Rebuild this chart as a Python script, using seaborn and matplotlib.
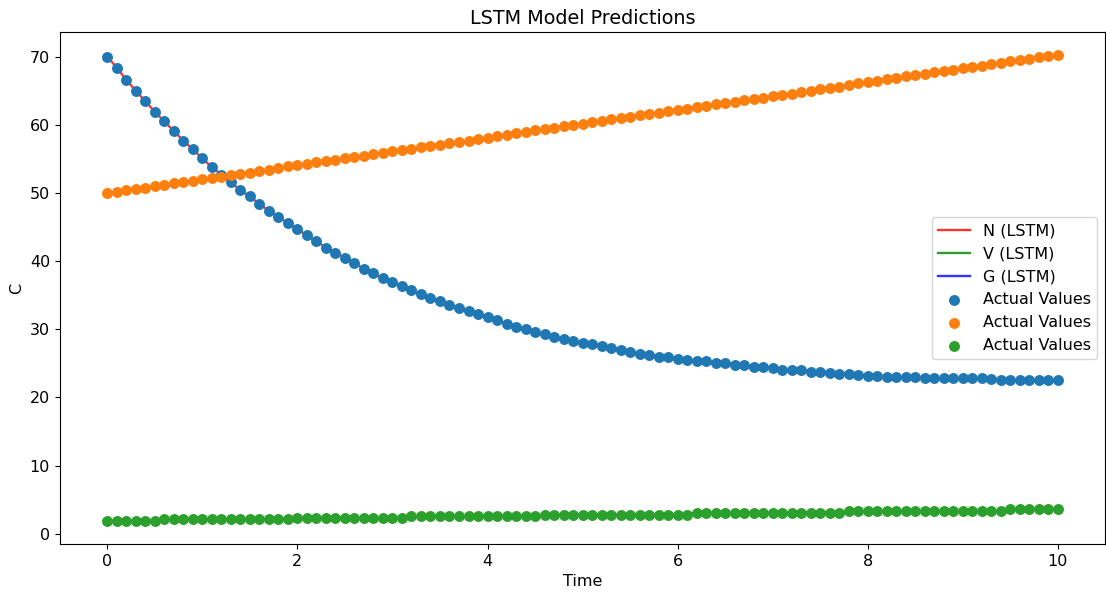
import numpy as np
import pandas as pd
import matplotlib
matplotlib.use('Agg')
import matplotlib.pyplot as plt
import seaborn as sns

# ============================
# 数据
# ============================
time = [round(0.1 * i, 1) for i in range(101)]

n_actual = [
    70.0, 68.4, 66.6, 65.0, 63.5, 61.9, 60.5, 59.1, 57.7, 56.4,
    55.1, 53.8, 52.7, 51.6, 50.4, 49.5, 48.4, 47.4, 46.5, 45.6,
    44.7, 43.8, 42.9, 42.0, 41.2, 40.5, 39.7, 38.9, 38.2, 37.5,
    37.0, 36.3, 35.7, 35.2, 34.6, 34.1, 33.6, 33.2, 32.7, 32.3,
    31.8, 31.3, 30.8, 30.4, 30.0, 29.6, 29.3, 28.9, 28.6, 28.3,
    28.0, 27.8, 27.5, 27.2, 26.9, 26.7, 26.4, 26.2, 26.0, 25.9,
    25.7, 25.5, 25.4, 25.3, 25.1, 25.0, 24.8, 24.7, 24.5, 24.5,
    24.3, 24.1, 24.0, 24.0, 23.8, 23.8, 23.6, 23.5, 23.5, 23.3,
    23.2, 23.2, 23.0, 23.0, 23.0, 23.0, 22.8, 22.8, 22.8, 22.8,
    22.8, 22.8, 22.8, 22.7, 22.5, 22.5, 22.5, 22.5, 22.5, 22.5,
    22.5,
]

v_actual = [
    50.0, 50.2, 50.4, 50.6, 50.8, 51.0, 51.2, 51.4, 51.6, 51.8,
    52.0, 52.2, 52.4, 52.6, 52.8, 53.0, 53.2, 53.4, 53.6, 53.9,
    54.1, 54.3, 54.5, 54.7, 54.9, 55.1, 55.3, 55.5, 55.7, 55.9,
    56.1, 56.3, 56.5, 56.7, 56.9, 57.1, 57.3, 57.5, 57.7, 57.9,
    58.1, 58.3, 58.5, 58.8, 59.0, 59.2, 59.4, 59.6, 59.8, 60.0,
    60.2, 60.4, 60.6, 60.8, 61.0, 61.2, 61.4, 61.6, 61.8, 62.0,
    62.2, 62.4, 62.6, 62.8, 63.0, 63.2, 63.4, 63.6, 63.8, 64.0,
    64.2, 64.4, 64.6, 64.8, 65.0, 65.2, 65.4, 65.6, 65.9, 66.1,
    66.3, 66.5, 66.7, 66.9, 67.1, 67.3, 67.5, 67.7, 67.9, 68.1,
    68.3, 68.5, 68.7, 68.9, 69.1, 69.3, 69.5, 69.7, 69.9, 70.1,
    70.2,
]

g_actual = [
    1.9, 1.9, 1.9, 1.9, 1.9, 1.9, 2.1, 2.1, 2.1, 2.1,
    2.1, 2.1, 2.1, 2.1, 2.1, 2.1, 2.1, 2.1, 2.1, 2.1,
    2.3, 2.3, 2.3, 2.3, 2.3, 2.3, 2.3, 2.3, 2.3, 2.3,
    2.3, 2.3, 2.6, 2.6, 2.6, 2.6, 2.6, 2.6, 2.6, 2.6,
    2.6, 2.6, 2.6, 2.6, 2.6, 2.6, 2.8, 2.8, 2.8, 2.8,
    2.8, 2.8, 2.8, 2.8, 2.8, 2.8, 2.8, 2.8, 2.8, 2.8,
    2.8, 2.8, 3.1, 3.1, 3.1, 3.1, 3.1, 3.1, 3.1, 3.1,
    3.1, 3.1, 3.1, 3.1, 3.1, 3.1, 3.1, 3.1, 3.3, 3.3,
    3.3, 3.3, 3.3, 3.3, 3.3, 3.3, 3.3, 3.3, 3.3, 3.3,
    3.3, 3.3, 3.3, 3.3, 3.3, 3.6, 3.6, 3.6, 3.6, 3.6,
    3.6,
]

# LSTM 预测值与实际值在图上重合
n_pred = n_actual
v_pred = v_actual
g_pred = g_actual

df = pd.DataFrame({'Time': time, 'N': n_actual, 'V': v_actual, 'G': g_actual,
                   'N_pred': n_pred, 'V_pred': v_pred, 'G_pred': g_pred})

# ============================
# 绘图
# ============================
plt.rcParams['font.size'] = 11.5

fig, ax = plt.subplots(figsize=(11.06, 5.94), dpi=100)
fig.subplots_adjust(left=0.054, right=0.9995, top=0.946, bottom=0.084)

sns.lineplot(data=df, x='Time', y='N_pred', color='red', alpha=0.8, lw=1.7, label='N (LSTM)', ax=ax)
sns.lineplot(data=df, x='Time', y='V_pred', color='green', alpha=0.8, lw=1.7, label='V (LSTM)', ax=ax)
sns.lineplot(data=df, x='Time', y='G_pred', color='blue', alpha=0.8, lw=1.7, label='G (LSTM)', ax=ax)

for col, c in zip(['N', 'V', 'G'], ['tab:blue', 'tab:orange', 'tab:green']):
    sns.scatterplot(data=df, x='Time', y=col, color=c, s=62, linewidth=0,
                    label='Actual Values', ax=ax, zorder=3)

ax.set_title('LSTM Model Predictions')
ax.set_xlabel('Time')
ax.set_ylabel('C')
ax.legend(loc='center right')

plt.savefig('out.png', dpi=100)
plt.close()
